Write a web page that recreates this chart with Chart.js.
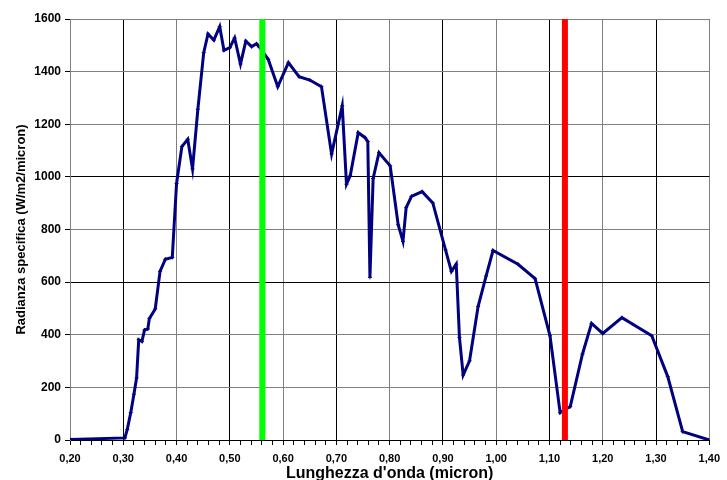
<!DOCTYPE html>
<html>
<head>
<meta charset="utf-8">
<script src="https://cdn.jsdelivr.net/npm/chart.js@4"></script>
<style>
  body { margin: 0; background: #fff; }
  canvas { display: block; }
</style>
</head>
<body>
<canvas id="spectrum" width="727" height="480"></canvas>
<script>
// wavelength (micron) and spectral radiance (W/m2/micron)
const wavelengths = [0.20, 0.303, 0.3075, 0.314, 0.320, 0.325, 0.329, 0.335, 0.340, 0.346, 0.349, 0.360, 0.369, 0.379, 0.392,
  0.400, 0.410, 0.421, 0.430, 0.440, 0.451, 0.459, 0.470, 0.481, 0.489, 0.500, 0.509, 0.520, 0.530, 0.541, 0.550, 0.556,
  0.572, 0.590, 0.610, 0.630, 0.650, 0.672, 0.691, 0.711, 0.719, 0.726, 0.741, 0.754, 0.759, 0.763, 0.769, 0.780, 0.801,
  0.816, 0.825, 0.831, 0.841, 0.861, 0.881, 0.905, 0.916, 0.925, 0.931, 0.938, 0.950, 0.966, 0.981, 0.994, 1.041, 1.073,
  1.101, 1.120, 1.139, 1.162, 1.179, 1.200, 1.236, 1.292, 1.322, 1.350, 1.400];
const radiance = [2, 8, 40, 104, 174, 236, 381, 375, 418, 422, 462, 498, 641, 687, 694,
  975, 1115, 1143, 1030, 1257, 1472, 1543, 1520, 1571, 1481, 1491, 1528, 1429, 1516, 1495, 1506, 1492,
  1447, 1343, 1434, 1381, 1368, 1343, 1087, 1270, 972, 1004, 1168, 1149, 1134, 618, 994, 1092, 1042,
  818, 755, 883, 926, 944, 901, 722, 641, 668, 390, 247, 301, 507, 623, 720, 668, 613,
  396, 104, 127, 327, 443, 405, 465, 396, 241, 32, 0];

// marker lines
const greenLineX = 0.561;
const redLineX = 1.129;

// axis ranges: x has a major tick every 0.1 and a minor tick every 0.02
const xMin = 0.2, xMax = 1.4, xMinorStep = 0.02;
const yMax = 1600, yStep = 200;

const points = wavelengths.map((w, i) => ({ x: w, y: radiance[i] }));
const isMajor = v => Math.abs(v * 10 - Math.round(v * 10)) < 1e-6;

const ctx = document.getElementById('spectrum').getContext('2d');
const fam = 'Arial, "Liberation Sans", sans-serif';

new Chart(ctx, {
  type: 'line',
  data: {
    datasets: [
      {
        data: [{ x: greenLineX, y: 0 }, { x: greenLineX, y: yMax }],
        borderColor: '#00ff00', borderWidth: 6, pointRadius: 0, order: 0
      },
      {
        data: [{ x: redLineX, y: 0 }, { x: redLineX, y: yMax }],
        borderColor: '#ff0000', borderWidth: 6, pointRadius: 0, order: 0
      },
      {
        data: points,
        borderColor: '#000080', backgroundColor: '#000080',
        borderWidth: 3, pointRadius: 2, pointStyle: 'cross', pointBorderWidth: 1,
        tension: 0, order: 1
      }
    ]
  },
  options: {
    responsive: false,
    animation: false,
    layout: { padding: { top: 19, right: 17, left: 0, bottom: 0 } },
    plugins: { legend: { display: false }, tooltip: { enabled: false } },
    scales: {
      x: {
        type: 'linear', min: xMin, max: xMax,
        afterBuildTicks: s => {
          const n = Math.round((xMax - xMin) / xMinorStep);
          s.ticks = [];
          for (let i = 0; i <= n; i++) s.ticks.push({ value: +(xMin + i * xMinorStep).toFixed(2) });
        },
        afterFit: s => { s.height = 40; },
        ticks: {
          font: { family: fam, size: 11, weight: 'bold' }, color: '#000', padding: 7, maxRotation: 0, autoSkip: false,
          callback: v => (isMajor(v) ? v.toFixed(2).replace('.', ',') : '')
        },
        grid: {
          color: c => (!isMajor(c.tick.value) ? 'rgba(0,0,0,0)'
            : (Math.round(c.tick.value * 10) % 2 === 1 ? '#000' : '#808080')),
          lineWidth: 1, tickLength: 5, tickColor: '#000'
        },
        border: { color: '#000', width: 1 },
        title: {
          display: true, text: "Lunghezza d'onda (micron)", color: '#000',
          font: { family: fam, size: 16, weight: 'bold' }, padding: { top: 0, bottom: -3 }
        }
      },
      y: {
        min: 0, max: yMax,
        afterFit: s => { s.width = 70; },
        ticks: {
          stepSize: yStep, font: { family: fam, size: 12, weight: 'bold' }, color: '#000', padding: 4,
          callback: v => String(v)
        },
        grid: {
          color: c => ([600, 1000].includes(c.tick.value) ? '#000' : '#808080'),
          lineWidth: 1, tickLength: 5, tickColor: '#000'
        },
        border: { color: '#808080', width: 1 },
        title: {
          display: true, text: 'Radianza specifica (W/m2/micron)', color: '#000',
          font: { family: fam, size: 13, weight: 'bold' }, padding: { top: 14, bottom: 0 }
        }
      }
    }
  }
});
</script>
</body>
</html>
